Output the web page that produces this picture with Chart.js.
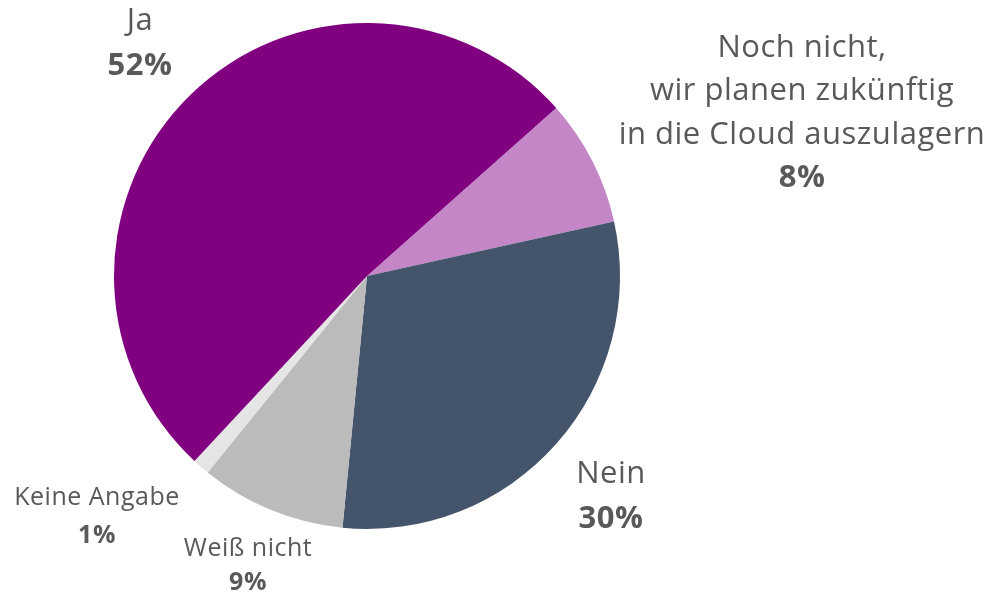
<!DOCTYPE html>
<html>
<head>
<meta charset="utf-8">
<script src="https://cdn.jsdelivr.net/npm/chart.js@4/dist/chart.umd.min.js"></script>
<style>
    html, body { margin: 0; padding: 0; background: #fff; }
    #wrap { width: 998px; height: 595px; position: relative; }
</style>
</head>
<body>
<div id="wrap"><canvas id="pieChart"></canvas></div>
<script>
// data (clockwise, starting at the Ja / Noch nicht boundary)
const categories = ['Noch nicht, wir planen zukünftig in die Cloud auszulagern', 'Nein', 'Weiß nicht', 'Keine Angabe', 'Ja'];
const shares = [8.1, 30.0, 9.3, 1.1, 51.5];
const shareLabels = ['8%', '30%', '9%', '1%', '52%'];
const labelLines = [
    ['Noch nicht,', 'wir planen zukünftig', 'in die Cloud auszulagern'],
    ['Nein'],
    ['Weiß nicht'],
    ['Keine Angabe'],
    ['Ja']
];
const sliceColors = ['#C586C8', '#44546A', '#BBBBBB', '#E5E5E5', '#800080'];

// where the text blocks sit (centre x, first line y, line step, font size)
const labelLayout = [
    { x: 802, y: 48, step: 43.5, size: 31 },
    { x: 611, y: 474, step: 45, size: 31 },
    { x: 248, y: 549, step: 34, size: 25 },
    { x: 97, y: 498, step: 38, size: 25 }
    , { x: 140, y: 21, step: 45, size: 31 }
];

const outsideLabels = {
    id: 'outsideLabels',
    afterDraw(chart) {
        const ctx = chart.ctx;
        ctx.save();
        ctx.textAlign = 'center';
        ctx.textBaseline = 'middle';
        ctx.fillStyle = '#595959';
        ctx.letterSpacing = '0.5px';
        labelLines.forEach(function(lines, i) {
            const l = labelLayout[i];
            let y = l.y;
            ctx.font = '400 ' + l.size + 'px "Open Sans"';
            lines.forEach(function(line) {
                ctx.fillText(line, l.x, y);
                y += l.step;
            });
            ctx.font = '700 ' + l.size + 'px "Open Sans"';
            ctx.fillText(shareLabels[i], l.x, y);
        });
        ctx.restore();
    }
};

const ctx = document.getElementById('pieChart').getContext('2d');
new Chart(ctx, {
    type: 'pie',
    data: {
        labels: categories,
        datasets: [{
            data: shares,
            backgroundColor: sliceColors,
            borderWidth: 0
        }]
    },
    options: {
        responsive: true,
        maintainAspectRatio: false,
        animation: false,
        rotation: 48.4,
        layout: {
            padding: { left: 114, right: 378, top: 23, bottom: 66 }
        },
        plugins: {
            legend: { display: false },
            tooltip: { enabled: false }
        }
    },
    plugins: [outsideLabels]
});
</script>
</body>
</html>
